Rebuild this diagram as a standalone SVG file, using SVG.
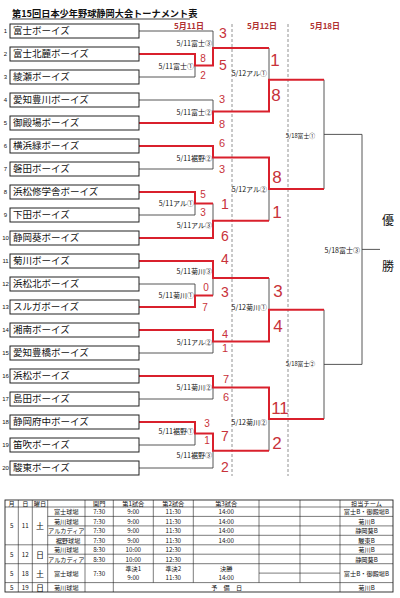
<svg xmlns="http://www.w3.org/2000/svg" width="400" height="598" viewBox="0 0 400 598">
<style>
.bg{fill:#fff}
.box{fill:#fff;stroke:#222;stroke-width:1}
.tn{font-family:"Noto Sans CJK JP","Noto Sans",sans-serif;font-size:9.5px;fill:#111}
.num{font-family:"Liberation Sans",sans-serif;font-size:6px;fill:#111;text-anchor:middle}
.blk{stroke:#444;stroke-width:0.9;fill:none}
.red{stroke:#d9202c;stroke-width:2;fill:none;stroke-linejoin:miter}
.dash{stroke:#777;stroke-width:0.8;stroke-dasharray:3,2}
.lbl{font-family:"Noto Sans CJK JP",sans-serif;font-size:7px;fill:#111;text-anchor:end;dominant-baseline:central}
.lbl3{font-family:"Noto Sans CJK JP",sans-serif;font-size:5.8px;fill:#111;text-anchor:end;dominant-baseline:central}
.sc{font-family:"Liberation Sans",sans-serif;fill:#c8323a;text-anchor:middle;dominant-baseline:central}
.s1{font-size:10px}
.s2{font-size:11px}
.s3{font-size:14px}
.s4{font-size:17px}
.date{font-family:"Noto Sans CJK JP",sans-serif;font-size:8px;font-weight:bold;fill:#b03030;text-anchor:middle;dominant-baseline:central}
.win{font-family:"Noto Sans CJK JP",sans-serif;font-size:12px;fill:#111;text-anchor:middle;dominant-baseline:central}
.tl{stroke:#222;stroke-width:0.6;fill:none}
.tt{font-family:"Noto Sans CJK JP",sans-serif;font-size:6.2px;fill:#111;text-anchor:middle;dominant-baseline:central}
</style>
<rect class="bg" x="0" y="0" width="400" height="598"/>
<g id="title">
<text x="12" y="16.5" style="font-family:'Noto Sans CJK JP',sans-serif;font-size:9.2px;font-weight:bold;fill:#111">第15回日本少年野球静岡大会トーナメント表</text>
<line x1="12" y1="19" x2="190" y2="19" stroke="#111" stroke-width="0.8"/>
</g>
<g id="dates">
<text class="date" x="189" y="25">5月11日</text>
<text class="date" x="262" y="25">5月12日</text>
<text class="date" x="325" y="25">5月18日</text>
</g>
<g id="guides">
<line class="dash" x1="232" y1="24" x2="232" y2="476"/>
<line class="dash" x1="288" y1="24" x2="288" y2="476"/>
</g>
<g id="connectors">
<path class="blk" d="M139,31H213V48 M139,77H195V65.5 M139,100H213V111.5 M139,169H213V157.5 M139,215H195V203.5 M213,203.5V220.75 M139,284H195V295.5 M213,278V295.5 M139,353H213V341.5 M139,399H213V387.5 M139,445H195V433.5 M139,468H213V450.75 M269,48V79.75 M269,189V220.75 M269,278V309.75 M269,419V450.75 M324,79.75V189 M324,134.4H362 M324,309.75V419 M324,364.4H362 M362,134.4V364.4 M362,249.4H380"/>
<path class="red" d="M139,54H195V65.5H213V48H269"/>
<path class="red" d="M139,123H213V111.5H269V79.75H324"/>
<path class="red" d="M139,146H213V157.5H269V189H324"/>
<path class="red" d="M139,192H195V203.5H213"/>
<path class="red" d="M139,238H213V220.75H269"/>
<path class="red" d="M139,261H213V278H269"/>
<path class="red" d="M139,307H195V295.5H213"/>
<path class="red" d="M139,330H213V341.5H269V309.75H324"/>
<path class="red" d="M139,376H213V387.5H269V419H324"/>
<path class="red" d="M139,422H195V433.5H213V450.75H269"/>
</g>
<g id="teams">
<g id="t1"><text class="num" x="5.5" y="33">1</text><rect class="box" x="10" y="24" width="129" height="14"/><text class="tn" x="13" y="34.3">富士ボーイズ</text></g>
<g id="t2"><text class="num" x="5.5" y="56">2</text><rect class="box" x="10" y="47" width="129" height="14"/><text class="tn" x="13" y="57.3">富士北麓ボーイズ</text></g>
<g id="t3"><text class="num" x="5.5" y="79">3</text><rect class="box" x="10" y="70" width="129" height="14"/><text class="tn" x="13" y="80.3">綾瀬ボーイズ</text></g>
<g id="t4"><text class="num" x="5.5" y="102">4</text><rect class="box" x="10" y="93" width="129" height="14"/><text class="tn" x="13" y="103.3">愛知豊川ボーイズ</text></g>
<g id="t5"><text class="num" x="5.5" y="125">5</text><rect class="box" x="10" y="116" width="129" height="14"/><text class="tn" x="13" y="126.3">御殿場ボーイズ</text></g>
<g id="t6"><text class="num" x="5.5" y="148">6</text><rect class="box" x="10" y="139" width="129" height="14"/><text class="tn" x="13" y="149.3">横浜緑ボーイズ</text></g>
<g id="t7"><text class="num" x="5.5" y="171">7</text><rect class="box" x="10" y="162" width="129" height="14"/><text class="tn" x="13" y="172.3">磐田ボーイズ</text></g>
<g id="t8"><text class="num" x="5.5" y="194">8</text><rect class="box" x="10" y="185" width="129" height="14"/><text class="tn" x="13" y="195.3">浜松修学舎ボーイズ</text></g>
<g id="t9"><text class="num" x="5.5" y="217">9</text><rect class="box" x="10" y="208" width="129" height="14"/><text class="tn" x="13" y="218.3">下田ボーイズ</text></g>
<g id="t10"><text class="num" x="5.5" y="240">10</text><rect class="box" x="10" y="231" width="129" height="14"/><text class="tn" x="13" y="241.3">静岡葵ボーイズ</text></g>
<g id="t11"><text class="num" x="5.5" y="263">11</text><rect class="box" x="10" y="254" width="129" height="14"/><text class="tn" x="13" y="264.3">菊川ボーイズ</text></g>
<g id="t12"><text class="num" x="5.5" y="286">12</text><rect class="box" x="10" y="277" width="129" height="14"/><text class="tn" x="13" y="287.3">浜松北ボーイズ</text></g>
<g id="t13"><text class="num" x="5.5" y="309">13</text><rect class="box" x="10" y="300" width="129" height="14"/><text class="tn" x="13" y="310.3">スルガボーイズ</text></g>
<g id="t14"><text class="num" x="5.5" y="332">14</text><rect class="box" x="10" y="323" width="129" height="14"/><text class="tn" x="13" y="333.3">湘南ボーイズ</text></g>
<g id="t15"><text class="num" x="5.5" y="355">15</text><rect class="box" x="10" y="346" width="129" height="14"/><text class="tn" x="13" y="356.3">愛知豊橋ボーイズ</text></g>
<g id="t16"><text class="num" x="5.5" y="378">16</text><rect class="box" x="10" y="369" width="129" height="14"/><text class="tn" x="13" y="379.3">浜松ボーイズ</text></g>
<g id="t17"><text class="num" x="5.5" y="401">17</text><rect class="box" x="10" y="392" width="129" height="14"/><text class="tn" x="13" y="402.3">島田ボーイズ</text></g>
<g id="t18"><text class="num" x="5.5" y="424">18</text><rect class="box" x="10" y="415" width="129" height="14"/><text class="tn" x="13" y="425.3">静岡府中ボーイズ</text></g>
<g id="t19"><text class="num" x="5.5" y="447">19</text><rect class="box" x="10" y="438" width="129" height="14"/><text class="tn" x="13" y="448.3">笛吹ボーイズ</text></g>
<g id="t20"><text class="num" x="5.5" y="470">20</text><rect class="box" x="10" y="461" width="129" height="14"/><text class="tn" x="13" y="471.3">駿東ボーイズ</text></g>
</g>
<g id="match-labels">
<text class="lbl" x="194" y="66">5/11富士①</text>
<text class="lbl" x="212" y="43">5/11富士③</text>
<text class="lbl" x="212" y="112">5/11富士②</text>
<text class="lbl" x="212" y="158">5/11裾野②</text>
<text class="lbl" x="194" y="203">5/11アル①</text>
<text class="lbl" x="212" y="225">5/11アル③</text>
<text class="lbl" x="212" y="271">5/11菊川③</text>
<text class="lbl" x="194" y="295">5/11菊川①</text>
<text class="lbl" x="212" y="342">5/11アル②</text>
<text class="lbl" x="212" y="387">5/11菊川②</text>
<text class="lbl" x="194" y="431">5/11裾野①</text>
<text class="lbl" x="212" y="455">5/11裾野③</text>
<text class="lbl" x="267" y="73">5/12アル①</text>
<text class="lbl" x="267" y="189">5/12アル②</text>
<text class="lbl" x="267" y="307">5/12菊川①</text>
<text class="lbl" x="267" y="422">5/12菊川②</text>
<text class="lbl3" x="315" y="135">5/18富士①</text>
<text class="lbl3" x="315" y="363">5/18富士②</text>
<text class="lbl" x="360" y="250">5/18富士③</text>
</g>
<g id="scores">
<text class="sc s1" x="203" y="58">8</text><text class="sc s1" x="203" y="75">2</text>
<text class="sc s3" x="223" y="33">3</text><text class="sc s3" x="223" y="65">5</text>
<text class="sc s2" x="222" y="99">3</text><text class="sc s2" x="222" y="124">8</text>
<text class="sc s2" x="222" y="143">6</text><text class="sc s2" x="222" y="169">3</text>
<text class="sc s1" x="203" y="194">5</text><text class="sc s1" x="203" y="212">3</text>
<text class="sc s3" x="225" y="204">1</text><text class="sc s3" x="225" y="236">6</text>
<text class="sc s1" x="206" y="287">0</text><text class="sc s1" x="205" y="307">7</text>
<text class="sc s3" x="225" y="259">4</text><text class="sc s3" x="225" y="292">3</text>
<text class="sc s2" x="225" y="334">4</text><text class="sc s2" x="225" y="348">1</text>
<text class="sc s2" x="226" y="379">7</text><text class="sc s2" x="226" y="397">6</text>
<text class="sc s1" x="207" y="423">3</text><text class="sc s1" x="207" y="440">1</text>
<text class="sc s3" x="225" y="436">7</text><text class="sc s3" x="225" y="467">2</text>
<text class="sc s4" x="275" y="60">1</text><text class="sc s4" x="276" y="95">8</text>
<text class="sc s4" x="277" y="177">8</text><text class="sc s4" x="277" y="212">1</text>
<text class="sc s4" x="278" y="291">3</text><text class="sc s4" x="278" y="326">4</text>
<text class="sc s4" x="280" y="408">11</text><text class="sc s4" x="277" y="443">2</text>
</g>
<g id="champion">
<text class="win" x="388" y="219">優</text>
<text class="win" x="388" y="265">勝</text>
</g>
<g id="schedule">
<rect x="5" y="500" width="388" height="92" fill="none" stroke="#222" stroke-width="0.9"/>
<path class="tl" d="M5,507H393 M47.7,516.4H393 M47.7,525.9H393 M47.7,535.3H393 M5,544.8H393 M47.7,554.2H393 M5,563.7H393 M259,573.1H340 M5,582.6H393"/>
<path class="tl" d="M18.3,500V592 M32.3,500V592 M47.7,500V592 M85,500V592 M113.3,500V592 M153.3,500V582.6 M193.3,500V582.6 M259,500V582.6 M300,500V582.6 M340,500V592"/>
<text class="tt" x="11.6" y="503.6">月</text>
<text class="tt" x="25.3" y="503.6">日</text>
<text class="tt" x="40" y="503.6">曜日</text>
<text class="tt" x="99.2" y="503.6">開門</text>
<text class="tt" x="133.3" y="503.6">第1試合</text>
<text class="tt" x="173.3" y="503.6">第2試合</text>
<text class="tt" x="226.2" y="503.6">第3試合</text>
<text class="tt" x="366.5" y="503.6">担当チーム</text>
<text class="tt" x="11.6" y="525.9">5</text><text class="tt" x="25.3" y="525.9">11</text><text class="tt" x="40" y="525.9" style="font-size:8px">土</text>
<text class="tt" x="66.3" y="511.7">富士球場</text><text class="tt" x="99.2" y="511.7">7:30</text><text class="tt" x="133.3" y="511.7">9:00</text><text class="tt" x="173.3" y="511.7">11:30</text><text class="tt" x="226.2" y="511.7">14:00</text><text class="tt" x="366.5" y="511.7">富士B・御殿場B</text>
<text class="tt" x="66.3" y="521.2">菊川球場</text><text class="tt" x="99.2" y="521.2">7:30</text><text class="tt" x="133.3" y="521.2">9:00</text><text class="tt" x="173.3" y="521.2">11:30</text><text class="tt" x="226.2" y="521.2">14:00</text><text class="tt" x="366.5" y="521.2">菊川B</text>
<text class="tt" x="66.3" y="530.6">アルカディア</text><text class="tt" x="99.2" y="530.6">7:30</text><text class="tt" x="133.3" y="530.6">9:00</text><text class="tt" x="173.3" y="530.6">11:30</text><text class="tt" x="226.2" y="530.6">14:00</text><text class="tt" x="366.5" y="530.6">静岡葵B</text>
<text class="tt" x="68" y="540.1">裾野球場</text><text class="tt" x="99.2" y="540.1">7:30</text><text class="tt" x="133.3" y="540.1">9:00</text><text class="tt" x="173.3" y="540.1">11:30</text><text class="tt" x="226.2" y="540.1">14:00</text><text class="tt" x="366.5" y="540.1">駿東B</text>
<text class="tt" x="11.6" y="554.2">5</text><text class="tt" x="25.3" y="554.2">12</text><text class="tt" x="40" y="554.2" style="font-size:8px">日</text>
<text class="tt" x="66.3" y="549.5">菊川球場</text><text class="tt" x="99.2" y="549.5">8:30</text><text class="tt" x="133.3" y="549.5">10:00</text><text class="tt" x="173.3" y="549.5">12:30</text><text class="tt" x="366.5" y="549.5">菊川B</text>
<text class="tt" x="66.3" y="559">アルカディア</text><text class="tt" x="99.2" y="559">8:30</text><text class="tt" x="133.3" y="559">10:00</text><text class="tt" x="173.3" y="559">12:30</text><text class="tt" x="366.5" y="559">静岡葵B</text>
<text class="tt" x="11.6" y="573.1">5</text><text class="tt" x="25.3" y="573.1">18</text><text class="tt" x="40" y="573.1" style="font-size:8px">土</text>
<text class="tt" x="66.3" y="573.1">富士球場</text><text class="tt" x="99.2" y="573.1">7:30</text>
<text class="tt" x="133.3" y="568.4">準決1</text><text class="tt" x="133.3" y="577.8">9:00</text>
<text class="tt" x="173.3" y="568.4">準決2</text><text class="tt" x="173.3" y="577.8">11:30</text>
<text class="tt" x="226.2" y="568.4">決勝</text><text class="tt" x="226.2" y="577.8">14:00</text>
<text class="tt" x="366.5" y="573.1">富士B・御殿場B</text>
<text class="tt" x="11.6" y="587.3">5</text><text class="tt" x="25.3" y="587.3">19</text><text class="tt" x="40" y="587.3" style="font-size:8px">日</text>
<text class="tt" x="66.3" y="587.3">菊川球場</text>
<text class="tt" x="226.7" y="587.3">予　備　日</text>
<text class="tt" x="366.5" y="587.3">菊川B</text>
</g>
</svg>
